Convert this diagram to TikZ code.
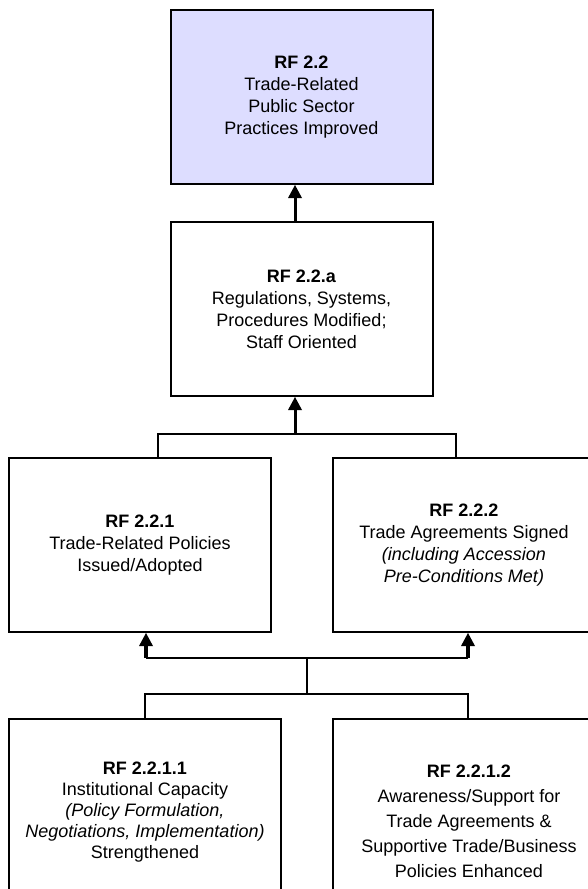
\documentclass[tikz,border=0pt]{standalone}
\usepackage{fontspec}
\setmainfont{Liberation Sans}
\usetikzlibrary{arrows.meta}
\definecolor{lav}{RGB}{221,221,255}
\begin{document}
\begin{tikzpicture}[x=1pt,y=-1pt,
  box/.style={draw, line width=2pt, minimum width=262pt, minimum height=174pt,
    align=center, inner sep=0pt, font=\fontsize{18}{22}\selectfont},
  ln/.style={line width=2pt},
  arr/.style={line width=3pt, -{Triangle[width=14pt,length=13pt,line width=0pt]}},
  arrT/.style={line width=4.5pt, -{Triangle[width=14pt,length=13pt,line width=0pt]}}]
\useasboundingbox (0,0) rectangle (588,889);
\clip (0,0) rectangle (588,889);
\node[box, fill=lav] (a) at (301.5,97) {\textbf{RF 2.2}\\Trade-Related\\Public Sector\\Practices Improved};
\node[box] (b) at (301.5,309) {\textbf{RF 2.2.a}\\Regulations, Systems,\\Procedures Modified;\\Staff Oriented};
\node[box] (c) at (140,545) {\textbf{RF 2.2.1}\\Trade-Related Policies\\Issued/Adopted};
\node[box] (d) at (464,545) {\textbf{RF 2.2.2}\\Trade Agreements Signed\\\textit{(including Accession}\\\textit{Pre-Conditions Met)}};
\node[box, minimum width=272pt, minimum height=186pt, font=\fontsize{18}{21}\selectfont] (e) at (145,812) {\textbf{RF 2.2.1.1}\\Institutional Capacity\\\textit{(Policy Formulation,}\\\textit{Negotiations, Implementation)}\\Strengthened};
\node[box, minimum width=272pt, minimum height=204pt, font=\fontsize{18}{25}\selectfont] (f) at (469,821) {\textbf{RF 2.2.1.2}\\Awareness/Support for\\Trade Agreements \&\\Supportive Trade/Business\\Policies Enhanced};
\coordinate (j1) at (295,434);
\coordinate (l1) at (158,434);
\coordinate (r1) at (456,434);
\coordinate (j2) at (307,658);
\coordinate (l2) at (146,658);
\coordinate (r2) at (468,658);
\coordinate (j3) at (307,694);
\coordinate (l3) at (145,694);
\coordinate (r3) at (468,694);
\draw[arr] (b.north -| j1) -- (a.south -| j1);
\draw[arr] (j1) -- (j1 |- b.south);
\draw[ln] (l1 |- c.north) -- (l1) -- (r1) -- (r1 |- d.north);
\draw[ln] (l2) -- (r2);
\draw[ln] (j2) -- (j3);
\draw[arrT] (l2) -- (l2 |- c.south);
\draw[arrT] (r2) -- (r2 |- d.south);
\draw[ln] (l3 |- e.north) -- (l3) -- (r3) -- (r3 |- f.north);
\end{tikzpicture}
\end{document}
